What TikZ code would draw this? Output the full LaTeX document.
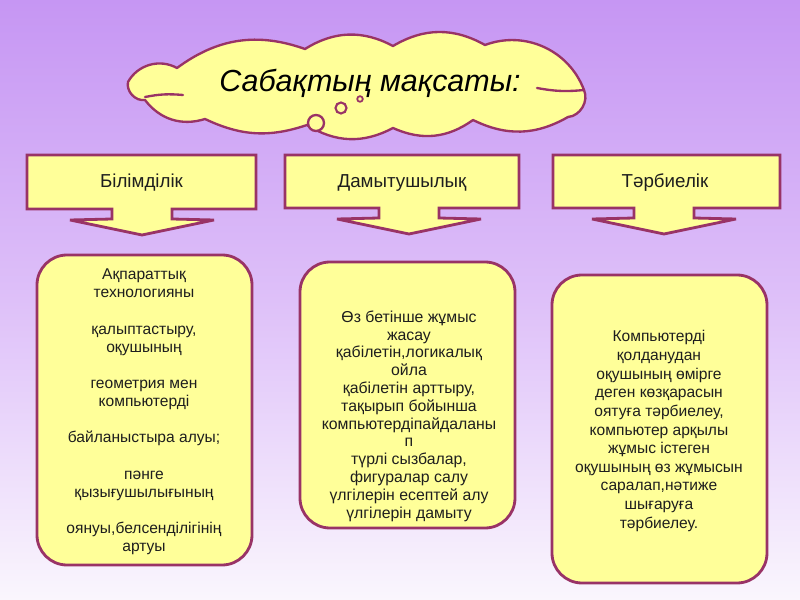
\documentclass[tikz,border=0pt]{standalone}
\usepackage{fontspec}
\setmainfont{Liberation Sans}
\definecolor{bgtop}{RGB}{198,150,243}
\definecolor{bgmid}{RGB}{222,192,249}
\definecolor{bgbot}{RGB}{250,246,253}
\definecolor{fillY}{RGB}{255,255,153}
\definecolor{edgeM}{RGB}{153,51,102}
\definecolor{txt}{RGB}{30,30,30}
\newcommand\mycallout[5]{% left, right, top, bottom, cx
  \draw[calloutst] (#1,#3) -- (#2,#3) -- (#2,#4) -- (#5+30,#4) -- (#5+30,#4+10)
    -- (#5+72,#4+11) -- (#5,#4+26) -- (#5-72,#4+11) -- (#5-30,#4+10)
    -- (#5-30,#4) -- (#1,#4) -- cycle;}
\newcommand\bl{\\\mbox{}\\}
\begin{document}
\begin{tikzpicture}[x=0.03cm,y=-0.03cm,
  calloutst/.style={draw=edgeM,fill=fillY,line width=2.4pt,line join=miter,miter limit=3},
  roundbox/.style={draw=edgeM,fill=fillY,line width=2.4pt,rounded corners=0.9cm},
  cloudst/.style={draw=edgeM,fill=fillY,line width=2pt,line join=round},
  lbl/.style={anchor=base,font=\fontsize{16}{19}\selectfont,text=txt},
  body/.style={align=center,text=txt,inner sep=0pt}]
\fill[top color=bgtop,bottom color=bgbot,middle color=bgmid] (0,0) rectangle (800,600);
\useasboundingbox (0,0) rectangle (800,600);
% cloud
\draw[cloudst] (128,82) to[bend left=45] (177,68) to[bend left=28] (305,49)
  to[bend left=30] (393,46) to[bend left=30] (485,45) to[bend left=45] (584,90)
  to[bend left=55] (568,117) to[bend left=28] (473,120) to[bend left=30] (393,128)
  to[bend left=30] (307,125) to[bend left=22] (205,119) to[bend left=35] (145,100)
  to[bend left=55] (128,82) -- cycle;
\draw[edgeM,line width=2pt,line cap=round] (584,90) to[bend left=8] (537,88);
\draw[edgeM,line width=2pt,line cap=round] (145,97) to[bend left=8] (183,95);
\filldraw[draw=edgeM,fill=fillY,line width=2pt] (316,123) circle (8);
\filldraw[draw=edgeM,fill=fillY,line width=1.8pt] (341,108) circle (5.5);
\filldraw[draw=edgeM,fill=fillY,line width=1.5pt] (360,99) circle (2.8);
\node[anchor=base,font=\fontsize{26}{30}\selectfont\itshape] (title) at (370,92) {Сабақтың мақсаты:};
% callouts
\mycallout{27}{256}{155}{209}{142}
\mycallout{285}{519}{155}{208}{409}
\mycallout{553}{780}{155}{208}{664}
\node[lbl] (h1) at (141.5,188) {Білімділік};
\node[lbl] (h2) at (402,188) {Дамытушылық};
\node[lbl] (h3) at (665,188) {Тәрбиелік};
% rounded boxes
\draw[roundbox] (37,255) rectangle (252,565);
\draw[roundbox] (300,262) rectangle (515,528);
\draw[roundbox] (552,275) rectangle (767,583);
\node[body,font=\fontsize{13.3}{15.5}\selectfont] (t1) at (144,412) {Ақпараттық\\технологияны\bl
қалыптастыру,\\оқушының\bl геометрия мен\\компьютерді\bl байланыстыра алуы;\bl
пәнге\\қызығушылығының\bl оянуы,белсенділігінің\\артуы};
\node[body,font=\fontsize{13.5}{15.2}\selectfont] (t2) at (409,416) {Өз бетінше жұмыс\\жасау\\
қабілетін,логикалық\\ойла\\қабілетін арттыру,\\тақырып бойынша\\компьютердіпайдаланы\\п\\
түрлі сызбалар,\\фигуралар салу\\үлгілерін есептей алу\\үлгілерін дамыту};
\node[body,font=\fontsize{13.3}{15.9}\selectfont] (t3) at (659,431) {Компьютерді\\қолданудан\\
оқушының өмірге\\деген көзқарасын\\оятуға тәрбиелеу,\\компьютер арқылы\\жұмыс істеген\\
оқушының өз жұмысын\\саралап,нәтиже\\шығаруға\\тәрбиелеу.};
\end{tikzpicture}
\end{document}
